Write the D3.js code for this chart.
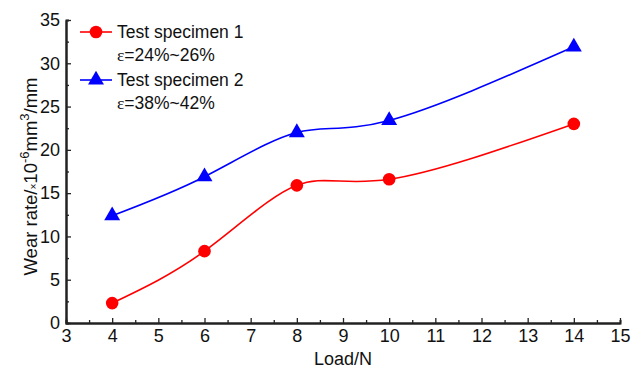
<!DOCTYPE html>
<html>
<head>
<meta charset="utf-8">
<script src="https://cdn.jsdelivr.net/npm/d3@7"></script>
<style>
  body { margin: 0; background: #fff; }
  svg text { font-family: "Liberation Sans", Arial, sans-serif; fill: #111; }
</style>
</head>
<body>
<svg id="main"></svg>
<script>
// data
var loads = [4, 6, 8, 10, 14];
var specimen1 = [2.3, 8.3, 15.9, 16.6, 23.0];
var specimen2 = [12.4, 16.9, 22.0, 23.4, 31.9];
var xTicks = [3, 4, 5, 6, 7, 8, 9, 10, 11, 12, 13, 14, 15];
var yTicks = [0, 5, 10, 15, 20, 25, 30, 35];

var margin = {top: 20, right: 21, bottom: 47, left: 66},
    width = 641 - margin.left - margin.right,
    height = 370 - margin.top - margin.bottom;

var svg = d3.select("#main")
    .attr("width", 641)
    .attr("height", 370)
  .append("g")
    .attr("transform", "translate(" + margin.left + "," + margin.top + ")");

var x = d3.scaleLinear().domain([3, 15]).range([0, width]);
var y = d3.scaleLinear().domain([0, 35]).range([height, 0]);

// minor ticks
svg.append("g")
    .attr("class", "minor")
    .attr("transform", "translate(0," + height + ")")
    .call(d3.axisBottom(x).tickValues(d3.range(3.5, 15, 1)).tickSize(-3).tickFormat(""));
svg.append("g")
    .attr("class", "minor")
    .call(d3.axisLeft(y).tickValues(d3.range(2.5, 35, 5)).tickSize(-3).tickFormat(""));

// main axes
svg.append("g")
    .attr("transform", "translate(0," + height + ")")
    .call(d3.axisBottom(x).tickValues(xTicks).tickSize(-5).tickPadding(6).tickSizeOuter(0));
svg.append("g")
    .call(d3.axisLeft(y).tickValues(yTicks).tickSize(-5).tickPadding(6).tickSizeOuter(0));

svg.selectAll(".domain").attr("stroke", "#222").attr("stroke-width", 2);
svg.selectAll(".tick line").attr("stroke", "#222").attr("stroke-width", 1.3);
svg.selectAll(".tick text").style("font-size", "18px").attr("fill", "#111");

// axis labels
svg.append("text")
    .attr("x", width / 2)
    .attr("y", height + 42)
    .style("text-anchor", "middle")
    .style("font-size", "18px")
    .text("Load/N");

var yl = svg.append("text")
    .attr("transform", "translate(" + (-29) + "," + (height / 2 + 5) + ") rotate(-90)")
    .style("text-anchor", "middle")
    .style("font-size", "18.5px");
yl.append("tspan").text("Wear rate/");
yl.append("tspan").style("font-size", "10px").text("\u00d7");
yl.append("tspan").text("10");
yl.append("tspan").attr("dy", -8).style("font-size", "13px").text("-6");
yl.append("tspan").attr("dy", 8).text("mm");
yl.append("tspan").attr("dy", -8).style("font-size", "13px").text("3");
yl.append("tspan").attr("dy", 8).text("/mm");

// curves
var line = d3.line()
    .x(function (d) { return x(d[0]); })
    .y(function (d) { return y(d[1]); })
    .curve(d3.curveNatural);

var series = [
  {name: "Test specimen 1", eps: "24%~26%", values: specimen1, color: "#ff0000", shape: d3.symbolCircle},
  {name: "Test specimen 2", eps: "38%~42%", values: specimen2, color: "#0000ff", shape: d3.symbolTriangle}
];

series.forEach(function (s) {
  var pts = loads.map(function (l, i) { return [l, s.values[i]]; });
  svg.append("path")
      .datum(pts)
      .attr("fill", "none")
      .attr("stroke", s.color)
      .attr("stroke-width", 1.6)
      .attr("d", line);
  svg.append("g")
    .selectAll("path")
    .data(pts)
    .enter()
    .append("path")
      .attr("transform", function (d) { return "translate(" + x(d[0]) + "," + y(d[1]) + ")"; })
      .attr("d", d3.symbol().type(s.shape).size(s.shape === d3.symbolCircle ? 125 : 110))
      .attr("fill", s.color);
});

// legend
var legend = svg.append("g").attr("transform", "translate(" + (-margin.left) + "," + (-margin.top) + ")");
series.forEach(function (s, i) {
  var ly = 32 + i * 48;
  legend.append("line")
      .attr("x1", 80).attr("x2", 112)
      .attr("y1", ly).attr("y2", ly)
      .attr("stroke", s.color).attr("stroke-width", 1.6);
  legend.append("path")
      .attr("transform", "translate(96," + ly + ")")
      .attr("d", d3.symbol().type(s.shape).size(s.shape === d3.symbolCircle ? 125 : 110))
      .attr("fill", s.color);
  legend.append("text")
      .attr("x", 117).attr("y", ly + 6)
      .style("font-size", "17.5px")
      .text(s.name);
  var t = legend.append("text")
      .attr("x", 117).attr("y", ly + 29)
      .style("font-size", "17.5px");
  t.append("tspan").style("font-family", "'Liberation Serif', 'Times New Roman', serif").text("\u03b5");
  t.append("tspan").text("=" + s.eps);
});
</script>
</body>
</html>
